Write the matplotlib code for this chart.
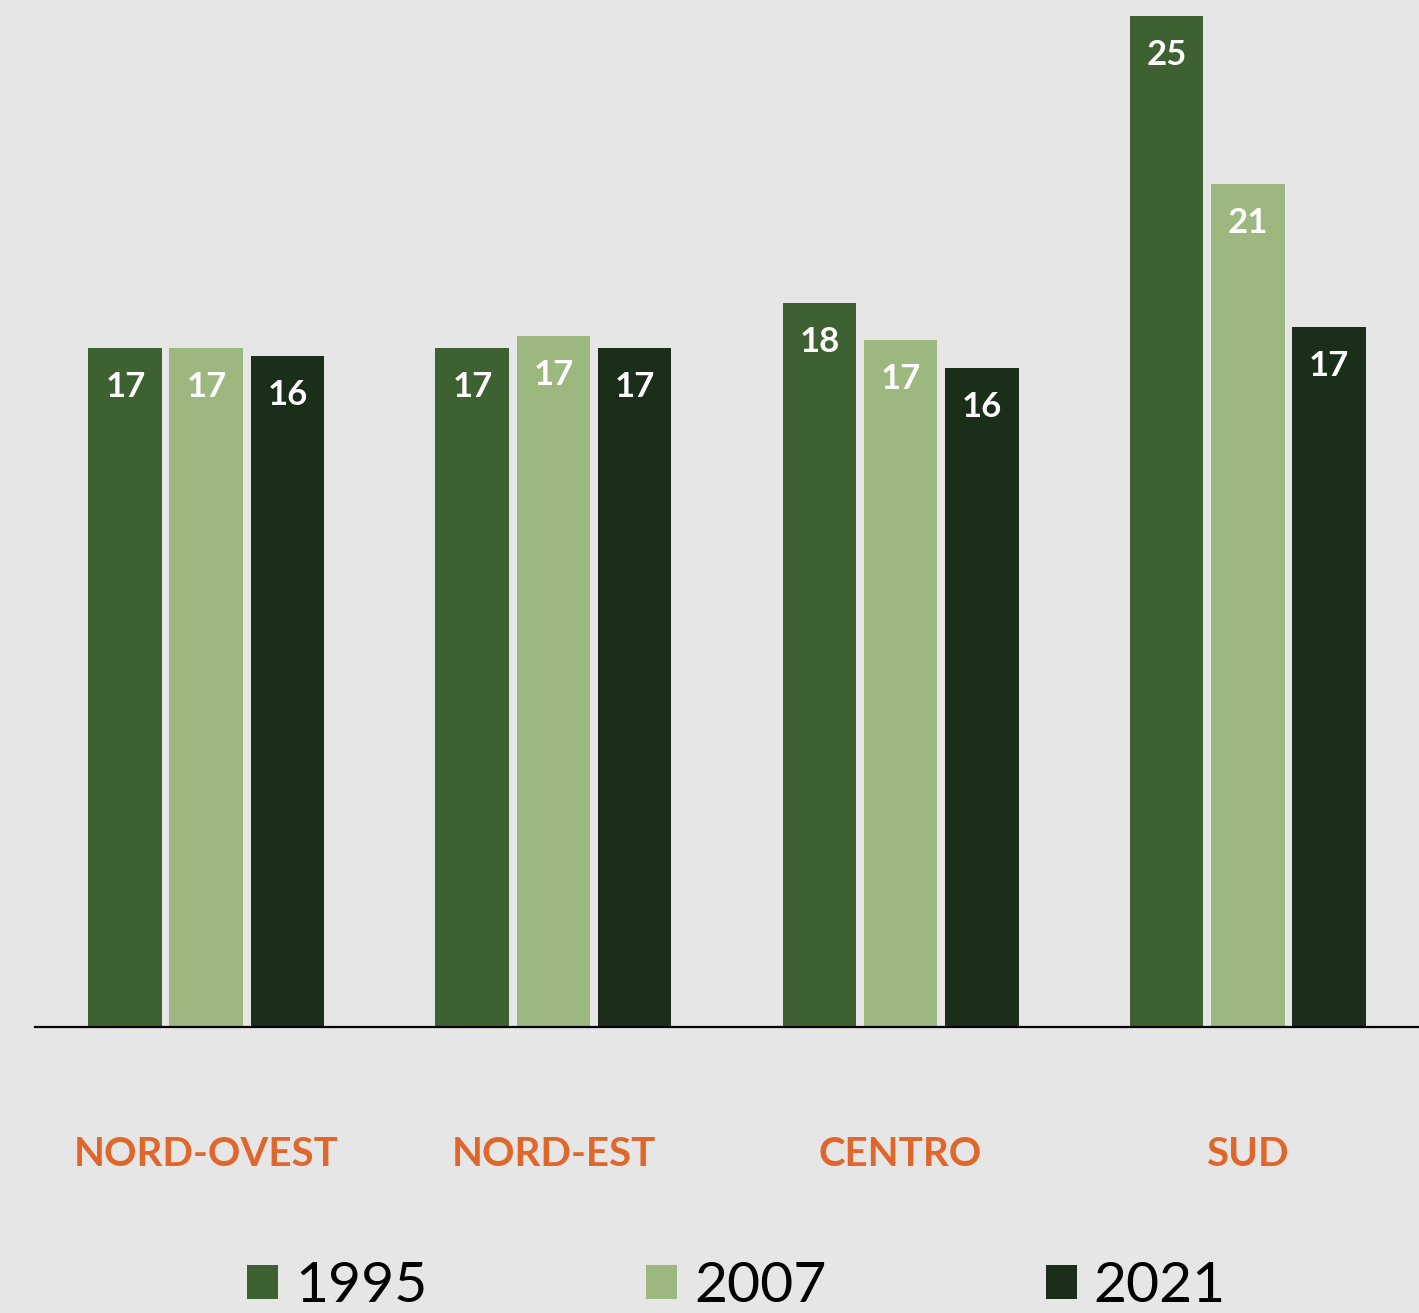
import matplotlib
matplotlib.use("Agg")
import matplotlib.pyplot as plt
from matplotlib.patches import Patch
import numpy as np

categories = ["NORD-OVEST", "NORD-EST", "CENTRO", "SUD"]
series_names = ["1995", "2007", "2021"]
v1995 = [16.6, 16.6, 17.7, 24.7]
v2007 = [16.6, 16.9, 16.8, 20.6]
v2021 = [16.4, 16.6, 16.1, 17.1]
colors = ["#3E6131", "#9CB87E", "#1B2E1A"]
bg = "#E6E6E6"
orange = "#E0672B"

W, H = 1419, 1313
fig = plt.figure(figsize=(W/100, H/100), dpi=100, facecolor=bg)
ax = fig.add_axes([35/W, (H-1027)/H, 1-35/W, 1027/H], facecolor=bg)

x = np.arange(len(categories))
width = 0.213
step = 0.2335
for k, (vals, c) in enumerate(zip([v1995, v2007, v2021], colors)):
    xs = x + (k-1)*step
    ax.bar(xs, vals, width=width, color=c, edgecolor=bg, linewidth=0)
    for xi, v in zip(xs, vals):
        ax.annotate(f"{v:.0f}", (xi, v), xytext=(0, -39), textcoords="offset pixels",
                    ha="center", va="center", color="white", fontsize=25,
                    fontweight="bold", family="Lato")

for xi, cat in zip(x, categories):
    ax.annotate(cat, (xi, 0), xytext=(0, -127), textcoords="offset pixels",
                ha="center", va="center", color=orange, fontsize=29,
                fontweight="bold", family="Lato", annotation_clip=False)

ax.set_xlim(-0.494, 3.494)
ax.set_ylim(0, 25.1)
for s in ["top", "left", "right"]:
    ax.spines[s].set_visible(False)
ax.spines["bottom"].set_color("black")
ax.spines["bottom"].set_linewidth(1.6)
ax.set_xticks([])
ax.set_yticks([])

handles = [Patch(facecolor=c, edgecolor="none") for c in colors]
leg = fig.legend(handles, series_names, loc="lower left",
                 bbox_to_anchor=(247/W, 1/H), ncol=3, frameon=False,
                 prop={"family": "Lato", "size": 41, "weight": "normal"},
                 handlelength=0.54, handleheight=0.54, handletextpad=0.3,
                 columnspacing=3.85, borderpad=0, borderaxespad=0)

fig.savefig("out.png", dpi=100, facecolor=bg)
